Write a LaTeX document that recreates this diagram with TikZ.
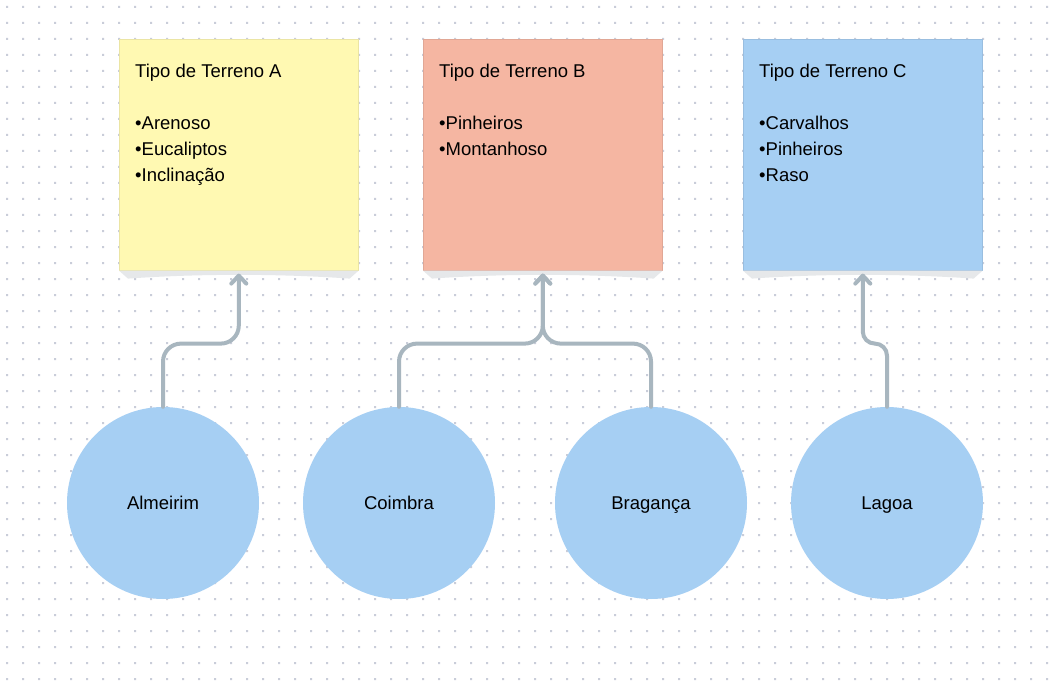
\documentclass[tikz,border=0pt]{standalone}
\usepackage{fontspec}
\setmainfont{Liberation Sans}
\usetikzlibrary{arrows.meta}
\definecolor{dotc}{HTML}{C9CDD9}
\definecolor{yel}{HTML}{FFF9B2}
\definecolor{sal}{HTML}{F5B6A2}
\definecolor{blu}{HTML}{A6CFF3}
\definecolor{conc}{HTML}{A8B6BF}
\definecolor{shdc}{HTML}{E6E8EA}
\begin{document}
\begin{tikzpicture}[x=1pt,y=-1pt,
  note/.style={rectangle, minimum width=239pt, minimum height=231pt, inner sep=0pt, anchor=north west, line width=0.6pt},
  txt/.style={anchor=base west, inner sep=0pt, font=\fontsize{18.5}{26}\selectfont},
  city/.style={circle, fill=blu, minimum size=192pt, inner sep=0pt, text height=13pt, text depth=0pt, font=\fontsize{18.5}{26}\selectfont},
  conn/.style={draw=conc, line width=4pt, line cap=round, line join=round, -{Straight Barb[length=8pt,width=15pt,round,line width=4pt]}},
  shd/.style={fill=shdc}
]
\useasboundingbox (0,0) rectangle (1061,682);
\fill[white] (0,0) rectangle (1061,682);
% dot grid
\fill[dotc] \foreach \i in {0,...,65} { \foreach \j in {0,...,42} { (6+16*\i, 6+16*\j) rectangle ++(2,2) } };

% notes
\node[note, fill=yel, draw=yel!92!black] (boxA) at (119,39) {};
\node[note, fill=sal, draw=sal!92!black] (boxB) at (423,39) {};
\node[note, fill=blu, draw=blu!92!black] (boxC) at (743,39) {};

% note shadows
\foreach \b in {boxA,boxB,boxC} {
  \fill[shd] (\b.south west) -- ([xshift=9pt,yshift=-8pt]\b.south west)
    .. controls ([xshift=-40pt,yshift=-3pt]\b.south) and ([xshift=40pt,yshift=-3pt]\b.south) ..
    ([xshift=-9pt,yshift=-8pt]\b.south east) -- (\b.south east) -- cycle;
}

% note texts
\node[txt] (tA0) at (135,78) {Tipo de Terreno A};
\node[txt] (tA1) at (135,130) {•Arenoso};
\node[txt] (tA2) at (135,156) {•Eucaliptos};
\node[txt] (tA3) at (135,182) {•Inclinação};

\node[txt] (tB0) at (439,78) {Tipo de Terreno B};
\node[txt] (tB1) at (439,130) {•Pinheiros};
\node[txt] (tB2) at (439,156) {•Montanhoso};

\node[txt] (tC0) at (759,78) {Tipo de Terreno C};
\node[txt] (tC1) at (759,130) {•Carvalhos};
\node[txt] (tC2) at (759,156) {•Pinheiros};
\node[txt] (tC3) at (759,182) {•Raso};

% cities
\node[city] (alm) at (163,503) {Almeirim};
\node[city] (coi) at (399,503) {Coimbra};
\node[city] (bra) at (651,503) {Bragança};
\node[city] (lag) at (887,503) {Lagoa};

% junction / tip coordinates
\path (boxA.south) ++(0,73) coordinate (jA);
\path (boxB.south) ++(0,73) coordinate (jB);
\path (boxC.south) ++(0,73) coordinate (jC);
\path (boxA.south) ++(0,3) coordinate (tipA);
\path (boxB.south) ++(0,3) coordinate (tipB);
\path (boxC.south) ++(0,3) coordinate (tipC);

% connectors
\draw[conn, rounded corners=18pt] (alm.north) |- (jA) -- (tipA);
\draw[conn, rounded corners=18pt] (coi.north) |- (jB) -- (tipB);
\draw[conn, rounded corners=18pt] (bra.north) |- (jB) -- (tipB);
\draw[conn, rounded corners=12pt] (lag.north) |- (jC) -- (tipC);
\end{tikzpicture}
\end{document}
